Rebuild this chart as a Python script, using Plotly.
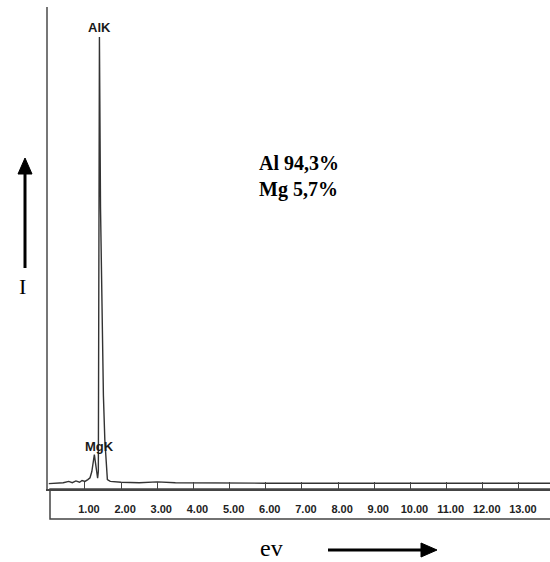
import plotly.graph_objects as go

# ---- data ----
energy_kev = [0.00, 0.20, 0.40, 0.55, 0.65, 0.75, 0.85, 0.92, 1.00, 1.08, 1.14,
              1.19, 1.22, 1.26, 1.29, 1.32, 1.35, 1.37, 1.385, 1.40, 1.43, 1.47,
              1.51, 1.55, 1.59, 1.62, 1.70, 2.00, 2.50, 3.00, 3.50, 4.50, 6.00,
              8.00, 10.00, 12.00, 13.86]
intensity = [0.3, 0.4, 0.5, 0.8, 0.5, 0.9, 0.6, 1.0, 0.8, 1.2, 1.6,
             3.0, 4.8, 6.8, 5.0, 2.5, 1.5, 3.0, 45.0, 100.0, 62.0, 35.0,
             20.0, 10.0, 4.0, 1.2, 0.8, 0.6, 0.5, 0.7, 0.5, 0.4, 0.4,
             0.4, 0.4, 0.4, 0.4]

tick_values = [1, 2, 3, 4, 5, 6, 7, 8, 9, 10, 11, 12, 13]
tick_labels = ["1.00", "2.00", "3.00", "4.00", "5.00", "6.00", "7.00",
               "8.00", "9.00", "10.00", "11.00", "12.00", "13.00"]

peak_labels = ["AlK", "MgK"]
peak_label_x = [1.39, 1.40]
peak_label_y = [102.2, 8.5]

composition = ["Al 94,3%", "Mg 5,7%"]

# ---- layout geometry ----
W, H = 550, 562
ML, MR, MT, MB = 48, 0, 7, 73
PW, PH = W - ML - MR, H - MT - MB


def px(x):
    return (x - ML) / PW


def py(y):
    return (H - MB - y) / PH


fig = go.Figure()
fig.add_trace(go.Scatter(
    x=energy_kev, y=intensity, mode="lines",
    line=dict(color="#333333", width=1.4),
    hoverinfo="skip", showlegend=False,
))

annotations = []
for txt, xv, yv, fs in zip(peak_labels, peak_label_x, peak_label_y, [13, 13]):
    annotations.append(dict(
        x=xv, y=yv, xref="x", yref="y", text=txt, showarrow=False,
        font=dict(family="Liberation Sans Narrow, Arial Narrow, Liberation Sans, Arial",
                  size=fs, color="#1a1a1a", weight="bold"),
        xanchor="center", yanchor="middle",
    ))

annotations.append(dict(
    x=px(257), y=py(177), xref="paper", yref="paper",
    text="<br>".join(composition), showarrow=False, align="left",
    font=dict(family="Liberation Serif, Times New Roman, serif", size=20,
              color="#000000", weight="bold"),
    xanchor="left", yanchor="middle",
))
annotations.append(dict(
    x=px(22), y=py(286), xref="paper", yref="paper", text="I", showarrow=False,
    font=dict(family="Liberation Serif, Times New Roman, serif", size=22, color="#000000"),
    xanchor="center", yanchor="middle",
))
annotations.append(dict(
    x=px(271), y=py(548), xref="paper", yref="paper", text="ev", showarrow=False,
    font=dict(family="Liberation Serif, Times New Roman, serif", size=24, color="#000000"),
    xanchor="center", yanchor="middle",
))

shapes = [
    # box under the energy axis
    dict(type="rect", xref="paper", yref="paper", x0=px(50), x1=1.02,
         y0=py(519), y1=py(489), line=dict(color="#444444", width=1.5)),
    # vertical arrow (I)
    dict(type="line", xref="paper", yref="paper", x0=px(25), x1=px(25),
         y0=py(268), y1=py(172), line=dict(color="#000000", width=3)),
    dict(type="path", xref="paper", yref="paper",
         path=f"M {px(25)},{py(158)} L {px(18)},{py(174)} L {px(32)},{py(174)} Z",
         fillcolor="#000000", line=dict(color="#000000", width=1)),
    # horizontal arrow (ev)
    dict(type="line", xref="paper", yref="paper", x0=px(328), x1=px(424),
         y0=py(550), y1=py(550), line=dict(color="#000000", width=3)),
    dict(type="path", xref="paper", yref="paper",
         path=f"M {px(437)},{py(550)} L {px(421)},{py(543)} L {px(421)},{py(557)} Z",
         fillcolor="#000000", line=dict(color="#000000", width=1)),
]

x_left = (ML - 48.8) / 36.17
fig.update_layout(
    width=W, height=H,
    margin=dict(l=ML, r=MR, t=MT, b=MB),
    paper_bgcolor="white", plot_bgcolor="white",
    annotations=annotations, shapes=shapes,
    xaxis=dict(
        range=[x_left, 13.86], showgrid=False, zeroline=False,
        showline=True, linecolor="#444444", linewidth=1.5,
        ticks="inside", ticklen=7, tickwidth=1.2, tickcolor="#444444",
        tickvals=tick_values, ticktext=tick_labels,
        ticklabelshift=4, ticklabelstandoff=9,
        tickfont=dict(family="Liberation Sans, Arial, sans-serif", size=11,
                      color="#222222", weight="bold"),
    ),
    yaxis=dict(
        range=[-0.9, 106.7], showgrid=False, zeroline=False,
        showline=True, linecolor="#777777", linewidth=1.5,
        showticklabels=False, ticks="",
    ),
)

fig.write_html("out.html")
